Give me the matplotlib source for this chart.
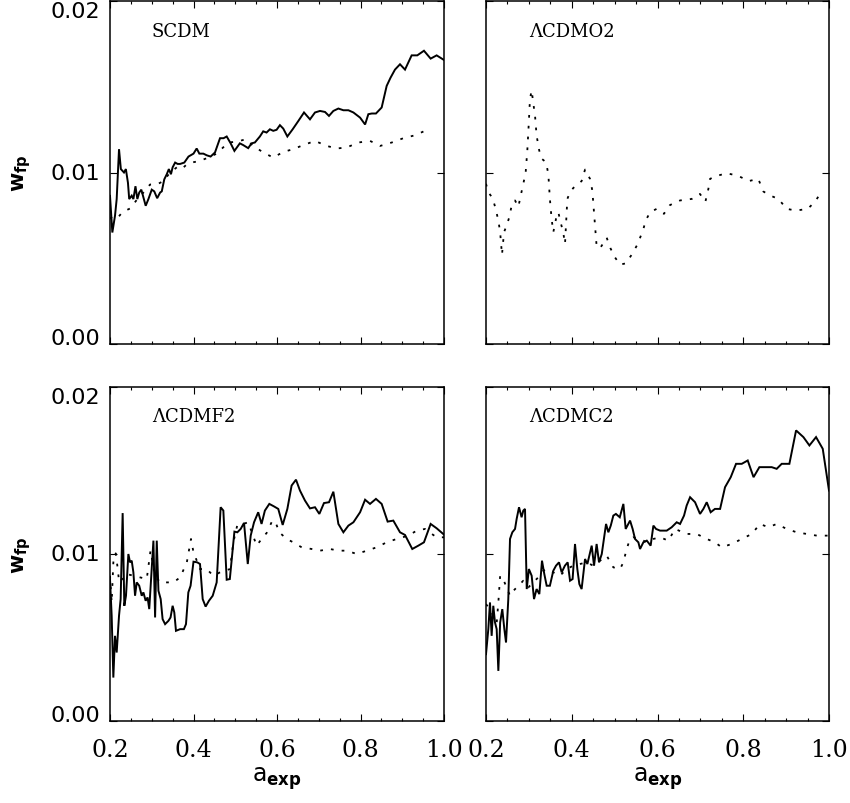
import matplotlib
matplotlib.use("Agg")
import matplotlib.pyplot as plt
from matplotlib.ticker import MultipleLocator

plt.rcParams['mathtext.fontset'] = 'dejavusans'

# SCDM
scdm_a = [0.200, 0.2056, 0.212, 0.216, 0.2216, 0.226, 0.2335, 0.238, 0.243, 0.246, 0.252, 0.256, 0.261,
          0.2655, 0.270, 0.275, 0.2855, 0.292, 0.300, 0.306, 0.313, 0.320, 0.324, 0.330, 0.336, 0.341, 0.346,
          0.350, 0.356, 0.362, 0.368, 0.378, 0.388, 0.400, 0.4076, 0.414, 0.4236, 0.432, 0.441, 0.4515, 0.4635,
          0.472, 0.4795, 0.489, 0.498, 0.511, 0.519, 0.531, 0.539, 0.547, 0.559, 0.567, 0.575, 0.583, 0.591,
          0.599, 0.607, 0.615, 0.6248, 0.6375, 0.651, 0.6647, 0.679, 0.691, 0.703, 0.715, 0.7245, 0.735,
          0.747, 0.759, 0.771, 0.783, 0.799, 0.811, 0.8188, 0.827, 0.837, 0.8507, 0.8627, 0.872, 0.8826,
          0.8946, 0.9066, 0.9225, 0.936, 0.952, 0.968, 0.9824, 1.000]
scdm_w = [0.00864, 0.0065, 0.00748, 0.00845, 0.01136, 0.0102, 0.0100, 0.0102, 0.0094, 0.00845, 0.00865,
          0.00845, 0.0092, 0.00845, 0.00883, 0.0090, 0.00806, 0.00845, 0.0090, 0.0089, 0.0085, 0.00883,
          0.0089, 0.0096, 0.0099, 0.0102, 0.0099, 0.0103, 0.01058, 0.0105, 0.0105, 0.01058, 0.01093, 0.0111,
          0.0114, 0.0111, 0.0111, 0.0110, 0.01093, 0.01117, 0.0120, 0.0120, 0.0121, 0.0117, 0.01126, 0.0117,
          0.0116, 0.01142, 0.0117, 0.01175, 0.0121, 0.0124, 0.01233, 0.01252, 0.01243, 0.01249, 0.01276,
          0.01256, 0.0121, 0.01252, 0.0130, 0.0135, 0.0131, 0.0135, 0.01359, 0.01353, 0.0133, 0.01359,
          0.01373, 0.01363, 0.01363, 0.0135, 0.0132, 0.0128, 0.0134, 0.01344, 0.01344, 0.01379, 0.01505,
          0.01553, 0.0160, 0.01631, 0.0160, 0.01683, 0.01683, 0.0171, 0.01664, 0.01683, 0.01656]
scdm_dot_a = [0.200, 0.208, 0.220, 0.230, 0.248, 0.264, 0.280, 0.296, 0.312, 0.328, 0.344, 0.360, 0.372,
              0.384, 0.400, 0.4156, 0.4355, 0.4555, 0.4834, 0.505, 0.525, 0.5433, 0.567, 0.591, 0.615,
              0.639, 0.663, 0.691, 0.719, 0.743, 0.767, 0.795, 0.823, 0.847, 0.875, 0.9026, 0.9305, 0.958]
scdm_dot_w = [0.0073, 0.00748, 0.0074, 0.0077, 0.0079, 0.0084, 0.00883, 0.0093, 0.0093, 0.0095, 0.0100,
              0.0103, 0.0102, 0.01048, 0.0106, 0.01068, 0.01087, 0.0111, 0.01175, 0.0118, 0.01194,
              0.01155, 0.01117, 0.01087, 0.0112, 0.01136, 0.0116, 0.01184, 0.01155, 0.0114, 0.01146,
              0.01175, 0.01184, 0.01155, 0.01175, 0.0120, 0.01217, 0.01247]

# LCDMO2 (dotted only)
o2_dot_a = [0.200, 0.2054, 0.2156, 0.2225, 0.2288, 0.233, 0.2373, 0.242, 0.248, 0.2544, 0.260, 0.2677,
            0.2755, 0.281, 0.287, 0.2925, 0.2964, 0.2995, 0.3026, 0.3065, 0.3105, 0.3143, 0.318, 0.324,
            0.330, 0.340, 0.3454, 0.349, 0.353, 0.357, 0.3633, 0.3687, 0.374, 0.380, 0.3843, 0.3897, 0.396,
            0.4037, 0.4154, 0.423, 0.431, 0.4426, 0.448, 0.4543, 0.458, 0.466, 0.4815, 0.490, 0.4994,
            0.5126, 0.5258, 0.541, 0.554, 0.567, 0.5725, 0.5826, 0.598, 0.615, 0.629, 0.6526, 0.680,
            0.699, 0.7117, 0.7187, 0.7225, 0.738, 0.7615, 0.7886, 0.8128, 0.835, 0.847, 0.8625, 0.882,
            0.9014, 0.923, 0.9504, 0.9675, 0.983]
o2_dot_w = [0.00934, 0.00885, 0.0085, 0.00788, 0.0072, 0.00652, 0.0052, 0.00652, 0.0069, 0.0074, 0.0081,
            0.00837, 0.0080, 0.00866, 0.00934, 0.0100, 0.0113, 0.01274, 0.0143, 0.01479, 0.0140, 0.01333,
            0.01216, 0.0113, 0.0108, 0.0106, 0.0099, 0.00846, 0.0073, 0.00652, 0.0073, 0.00768, 0.0071,
            0.00652, 0.00584, 0.00846, 0.00885, 0.0091, 0.00934, 0.0095, 0.01017, 0.00963, 0.00895, 0.0069,
            0.0057, 0.00558, 0.0062, 0.0056, 0.0051, 0.00463, 0.0047, 0.00525, 0.00584, 0.0067, 0.0072,
            0.00768, 0.00788, 0.00759, 0.0081, 0.00837, 0.00846, 0.00875, 0.0083, 0.00905, 0.00963, 0.0098,
            0.00996, 0.0098, 0.0095, 0.00963, 0.00889, 0.00866, 0.00846, 0.00788, 0.00778, 0.00788, 0.0083,
            0.0089]

# LCDMF2
f2_a = [0.200, 0.204, 0.208, 0.212, 0.216, 0.2216, 0.2255, 0.2303, 0.2343, 0.2383, 0.244, 0.248, 0.252,
        0.256, 0.260, 0.264, 0.270, 0.276, 0.280, 0.2854, 0.290, 0.294, 0.304, 0.308, 0.312, 0.316, 0.3214,
        0.326, 0.332, 0.340, 0.345, 0.350, 0.354, 0.358, 0.368, 0.377, 0.382, 0.3876, 0.393, 0.400, 0.409,
        0.4156, 0.422, 0.429, 0.437, 0.446, 0.4555, 0.465, 0.4715, 0.4795, 0.487, 0.498, 0.505, 0.513,
        0.521, 0.530, 0.537, 0.545, 0.555, 0.563, 0.571, 0.5816, 0.5928, 0.603, 0.6136, 0.6248, 0.635,
        0.6455, 0.655, 0.667, 0.679, 0.691, 0.7014, 0.7125, 0.7246, 0.735, 0.747, 0.759, 0.771, 0.783,
        0.799, 0.811, 0.8228, 0.837, 0.8507, 0.865, 0.8786, 0.8946, 0.9066, 0.924, 0.9385, 0.952, 0.968,
        0.9824, 1.000]
f2_w = [0.0085, 0.0063, 0.0026, 0.0051, 0.0041, 0.0063, 0.0073, 0.01245, 0.0069, 0.0075, 0.0100, 0.0095,
        0.0096, 0.0089, 0.0075, 0.0083, 0.0081, 0.0075, 0.0077, 0.0072, 0.0074, 0.0067, 0.0108, 0.0062,
        0.0108, 0.0078, 0.0073, 0.0061, 0.0058, 0.0060, 0.0062, 0.0069, 0.0065, 0.0054, 0.0055, 0.0055,
        0.0058, 0.0077, 0.0081, 0.00954, 0.0095, 0.0094, 0.0073, 0.00685, 0.0072, 0.0075, 0.0083, 0.0128,
        0.0126, 0.00846, 0.0085, 0.01134, 0.0113, 0.0115, 0.01186, 0.0094, 0.0111, 0.0119, 0.0125, 0.0118,
        0.0126, 0.0130, 0.01285, 0.0127, 0.01174, 0.0127, 0.0141, 0.01445, 0.0138, 0.0132, 0.01273,
        0.0128, 0.0124, 0.01305, 0.0131, 0.01373, 0.0118, 0.0113, 0.0117, 0.0119, 0.0125, 0.01325, 0.0130,
        0.0133, 0.0130, 0.01194, 0.0120, 0.0113, 0.01114, 0.0103, 0.0105, 0.0107, 0.0118, 0.01154, 0.01116]
f2_dot_a = [0.200, 0.204, 0.208, 0.2136, 0.2176, 0.222, 0.240, 0.256, 0.272, 0.288, 0.297, 0.308, 0.320,
            0.336, 0.352, 0.368, 0.384, 0.394, 0.400, 0.4156, 0.4315, 0.4475, 0.4635, 0.4874, 0.4954,
            0.505, 0.519, 0.531, 0.5513, 0.563, 0.5752, 0.587, 0.595, 0.6056, 0.623, 0.639, 0.659, 0.683,
            0.703, 0.727, 0.747, 0.767, 0.791, 0.815, 0.8387, 0.8627, 0.8866, 0.9146, 0.9345, 0.9545,
            0.982, 1.000]
f2_dot_w = [0.0087, 0.0071, 0.0095, 0.01004, 0.0093, 0.0083, 0.0088, 0.0087, 0.0086, 0.0085, 0.0102,
            0.0087, 0.0083, 0.0083, 0.0083, 0.0086, 0.0095, 0.0109, 0.0101, 0.0091, 0.0091, 0.0087, 0.0089,
            0.0091, 0.0107, 0.01174, 0.0118, 0.0119, 0.0105, 0.0109, 0.01126, 0.0119, 0.0120, 0.0113,
            0.0109, 0.0107, 0.0104, 0.0103, 0.0102, 0.0103, 0.0102, 0.0102, 0.0100, 0.0102, 0.0104, 0.0107,
            0.0109, 0.0111, 0.0114, 0.0115, 0.0110, 0.0110]

# LCDMC2
c2_a = [0.200, 0.2054, 0.2093, 0.2132, 0.217, 0.221, 0.2249, 0.2288, 0.233, 0.238, 0.2428, 0.2467, 0.252,
        0.256, 0.2614, 0.2677, 0.2715, 0.277, 0.283, 0.287, 0.291, 0.295, 0.300, 0.3065, 0.312, 0.318,
        0.3244, 0.3306, 0.336, 0.3415, 0.349, 0.357, 0.3633, 0.3703, 0.3765, 0.384, 0.3905, 0.396, 0.402,
        0.4076, 0.413, 0.4177, 0.423, 0.431, 0.4364, 0.441, 0.4465, 0.452, 0.458, 0.4636, 0.470, 0.480,
        0.4854, 0.491, 0.497, 0.503, 0.512, 0.5204, 0.5258, 0.536, 0.542, 0.5476, 0.5554, 0.5593, 0.567,
        0.575, 0.584, 0.5904, 0.5966, 0.606, 0.6215, 0.633, 0.6448, 0.6526, 0.6619, 0.668, 0.676, 0.6876,
        0.6992, 0.707, 0.7148, 0.724, 0.734, 0.746, 0.7575, 0.7708, 0.7832, 0.7965, 0.8104, 0.824, 0.8376,
        0.851, 0.8664, 0.878, 0.8897, 0.9076, 0.9232, 0.9403, 0.9543, 0.9698, 0.9854, 1.000]
c2_w = [0.0040, 0.0055, 0.0071, 0.0051, 0.0069, 0.0059, 0.0055, 0.0030, 0.0059, 0.0067, 0.0055, 0.0047,
        0.0073, 0.0109, 0.0113, 0.0115, 0.0121, 0.0128, 0.0122, 0.0126, 0.0127, 0.0079, 0.0091, 0.0087,
        0.0073, 0.0079, 0.0076, 0.0096, 0.0088, 0.0081, 0.0081, 0.0090, 0.0093, 0.0095, 0.0089, 0.0093,
        0.0095, 0.0084, 0.0085, 0.0106, 0.0091, 0.0082, 0.0079, 0.0097, 0.0094, 0.0099, 0.0105, 0.0093,
        0.0106, 0.0095, 0.0100, 0.0118, 0.0113, 0.0117, 0.0123, 0.0124, 0.0122, 0.0130, 0.0115, 0.0120,
        0.0115, 0.0109, 0.0107, 0.0103, 0.0107, 0.0108, 0.0105, 0.0117, 0.0115, 0.0114, 0.0114, 0.0116,
        0.0119, 0.0118, 0.0123, 0.0129, 0.0134, 0.0131, 0.0124, 0.0127, 0.0131, 0.0125, 0.0127, 0.0127,
        0.0140, 0.0146, 0.0154, 0.0154, 0.0156, 0.0146, 0.0152, 0.0152, 0.0152, 0.0151, 0.0154, 0.0154,
        0.0174, 0.0170, 0.0165, 0.0170, 0.0163, 0.0138]
c2_dot_a = [0.200, 0.209, 0.217, 0.225, 0.2288, 0.233, 0.240, 0.256, 0.264, 0.2755, 0.287, 0.2988, 0.310,
            0.322, 0.3337, 0.3454, 0.357, 0.3726, 0.388, 0.4037, 0.419, 0.435, 0.450, 0.466, 0.4815,
            0.497, 0.5126, 0.5204, 0.528, 0.536, 0.5437, 0.5593, 0.575, 0.590, 0.606, 0.6253, 0.641,
            0.668, 0.6915, 0.7148, 0.734, 0.7498, 0.773, 0.7965, 0.820, 0.839, 0.8586, 0.878, 0.9014,
            0.9247, 0.948, 0.9714, 1.000]
c2_dot_w = [0.0070, 0.0067, 0.0063, 0.0059, 0.0071, 0.0087, 0.0085, 0.0075, 0.0078, 0.0081, 0.0084,
            0.0080, 0.0083, 0.0086, 0.0090, 0.0091, 0.0089, 0.0087, 0.0091, 0.0093, 0.0094, 0.0095, 0.0093,
            0.0096, 0.0099, 0.0092, 0.0091, 0.0095, 0.0103, 0.0109, 0.0110, 0.0109, 0.0107, 0.0109, 0.0110,
            0.0108, 0.0115, 0.0112, 0.0112, 0.0109, 0.0107, 0.0104, 0.0106, 0.0109, 0.0112, 0.0118, 0.0116,
            0.0118, 0.0115, 0.0113, 0.0112, 0.0111, 0.0111]

panels = [
    ("SCDM", scdm_a, scdm_w, scdm_dot_a, scdm_dot_w),
    ("\u039bCDMO2", None, None, o2_dot_a, o2_dot_w),
    ("\u039bCDMF2", f2_a, f2_w, f2_dot_a, f2_dot_w),
    ("\u039bCDMC2", c2_a, c2_w, c2_dot_a, c2_dot_w),
]

W, H = 850, 804
fig = plt.figure(figsize=(W / 100, H / 100), dpi=100)

# axes boxes in pixels: left, top, right, bottom
boxes = [(110, 2, 444, 345), (486, 2, 829, 345),
         (110, 388, 444, 722), (486, 388, 829, 722)]

for i, (name, sa, sw, da, dw) in enumerate(panels):
    l, t, r, b = boxes[i]
    ax = fig.add_axes([l / W, 1 - b / H, (r - l) / W, (b - t) / H])
    if sa is not None:
        ax.plot(sa, sw, color='black', lw=1.4, solid_joinstyle='miter')
    ax.plot(da, dw, color='black', lw=1.3, linestyle=(0, (1.5, 4.5)))
    ax.set_xlim(0.2, 1.0)
    ax.set_ylim(0.0, 0.02)
    ax.set_xticks([0.2, 0.4, 0.6, 0.8, 1.0])
    ax.xaxis.set_minor_locator(MultipleLocator(0.05))
    ax.set_yticks([0.0, 0.01, 0.02])
    ax.tick_params(which='both', direction='in', top=True, right=True, width=0.8, color='black')
    ax.tick_params(which='major', length=5)
    ax.tick_params(which='minor', length=2.5)
    ax.tick_params(axis='y', pad=7)
    ax.tick_params(axis='x', pad=12)
    for sp in ax.spines.values():
        sp.set_linewidth(1.1)
    bottom_row = i >= 2
    left_col = i % 2 == 0
    ax.tick_params(labelbottom=bottom_row, labelleft=left_col)
    if left_col:
        ax.set_yticklabels(['0.00', '0.01', '0.02'], fontsize=16, family='DejaVu Sans')
        for lbl, va in zip(ax.get_yticklabels(), ['baseline', 'center', 'top']):
            lbl.set_va(va)
        fig.text(22 / W, 1 - ((t + b) / 2) / H, r'$\mathbf{w_{fp}}$', rotation=90,
                 ha='center', va='center', fontsize=15)
    if bottom_row:
        ax.set_xticklabels(['0.2', '0.4', '0.6', '0.8', '1.0'], fontsize=17, family='DejaVu Serif')
        fig.text(((l + r) / 2) / W, 1 - 779 / H, r'$\mathrm{a}_{\mathbf{exp}}$',
                 ha='center', va='center', fontsize=17)
    ax.text(0.125, 0.898, name, transform=ax.transAxes, fontsize=13,
            family='DejaVu Serif', ha='left', va='baseline')

fig.savefig('out.png', dpi=100)
